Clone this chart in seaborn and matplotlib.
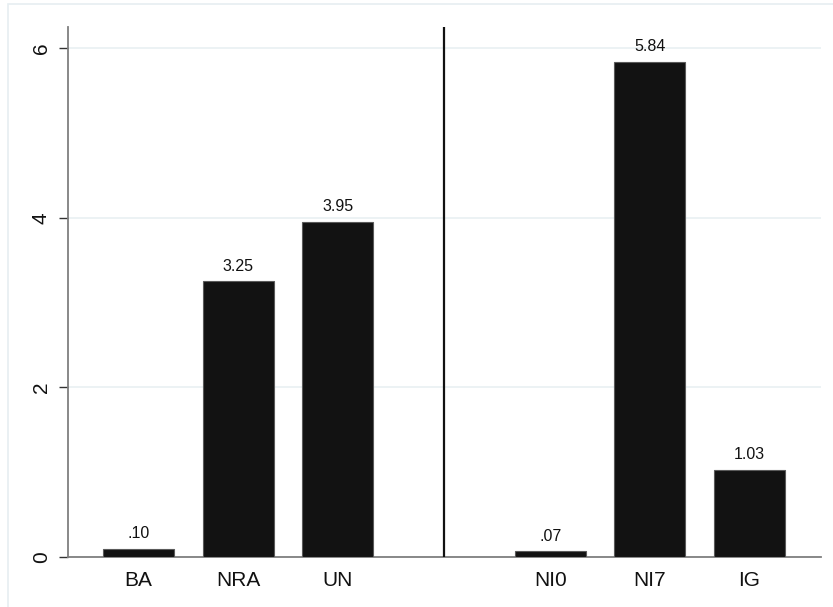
import matplotlib
matplotlib.use("Agg")
import matplotlib.pyplot as plt
import matplotlib.patches as mpatches
import numpy as np
import pandas as pd
import seaborn as sns

# Categories and values for the two panels of bars
left_labels = ["BA", "NRA", "UN"]
left_values = [0.10, 3.25, 3.95]
right_labels = ["NI0", "NI7", "IG"]
right_values = [0.07, 5.84, 1.03]
y_ticks = [0, 2, 4, 6]

sns.set_theme(style="white")
plt.rcParams["font.family"] = ["Liberation Sans", "DejaVu Sans"]

W, H = 833, 607
fig = plt.figure(figsize=(W / 100, H / 100), dpi=100)
fig.patch.set_facecolor("white")

# faint outer frame of the graph region
fig.patches.append(mpatches.Rectangle((8 / W, -0.05), 1.2, 1 - 4 / H + 0.05,
                                      transform=fig.transFigure, fill=False,
                                      edgecolor="#e6eef1", lw=1.2, zorder=0))

ax = fig.add_axes([68 / W, (H - 557) / H, (821 - 68) / W, (557 - 27) / H])

# bar positions: second group is shifted past the first with an extra gap
group_gap = 1.14
labels = left_labels + right_labels
values = left_values + right_values
positions = [i for i in range(len(left_labels))] + \
            [len(left_labels) + group_gap + i for i in range(len(right_labels))]
df = pd.DataFrame({"pos": positions, "value": values, "label": labels})

sns.barplot(data=df, x="pos", y="value", native_scale=True, width=0.714,
            color="#121212", saturation=1, edgecolor="#5a5a5a", linewidth=0.8,
            ax=ax, zorder=3)

# value labels above each bar, Stata-style (no leading zero)
for p, v in zip(positions, values):
    txt = f"{v:.2f}"
    if txt.startswith("0."):
        txt = txt[1:]
    ax.annotate(txt, (p, v), xytext=(0, 7.6), textcoords="offset points",
                ha="center", va="baseline", fontsize=11.5, color="#111111")

# separator between the two groups
sep = (positions[len(left_labels) - 1] + positions[len(left_labels)]) / 2
ax.axvline(sep, color="#111111", lw=1.6, zorder=4)

ax.set_xlim(positions[0] - 0.709, positions[-1] + 0.719)
ax.set_ylim(0, 6.25)
ax.set_xticks(positions)
ax.set_xticklabels(labels)
ax.set_yticks(y_ticks)
ax.set_yticklabels([str(t) for t in y_ticks])
ax.set_xlabel("")
ax.set_ylabel("")

ax.yaxis.grid(True, color="#eaf1f3", lw=1.3, zorder=0)
ax.xaxis.grid(False)
ax.set_axisbelow(True)

for s in ["top", "right"]:
    ax.spines[s].set_visible(False)
for s in ["left", "bottom"]:
    ax.spines[s].set_color("#7f7f7f")
    ax.spines[s].set_linewidth(1.3)

ax.tick_params(axis="y", which="major", left=True, length=6.5, width=1.0,
               color="#333333", pad=6, labelsize=15, labelrotation=90,
               labelcolor="#111111")
for t in ax.get_yticklabels():
    t.set_va("center")
ax.tick_params(axis="x", which="major", bottom=False, length=0, pad=10,
               labelsize=15, labelcolor="#111111")

fig.savefig("out.png", dpi=100, facecolor="white")
